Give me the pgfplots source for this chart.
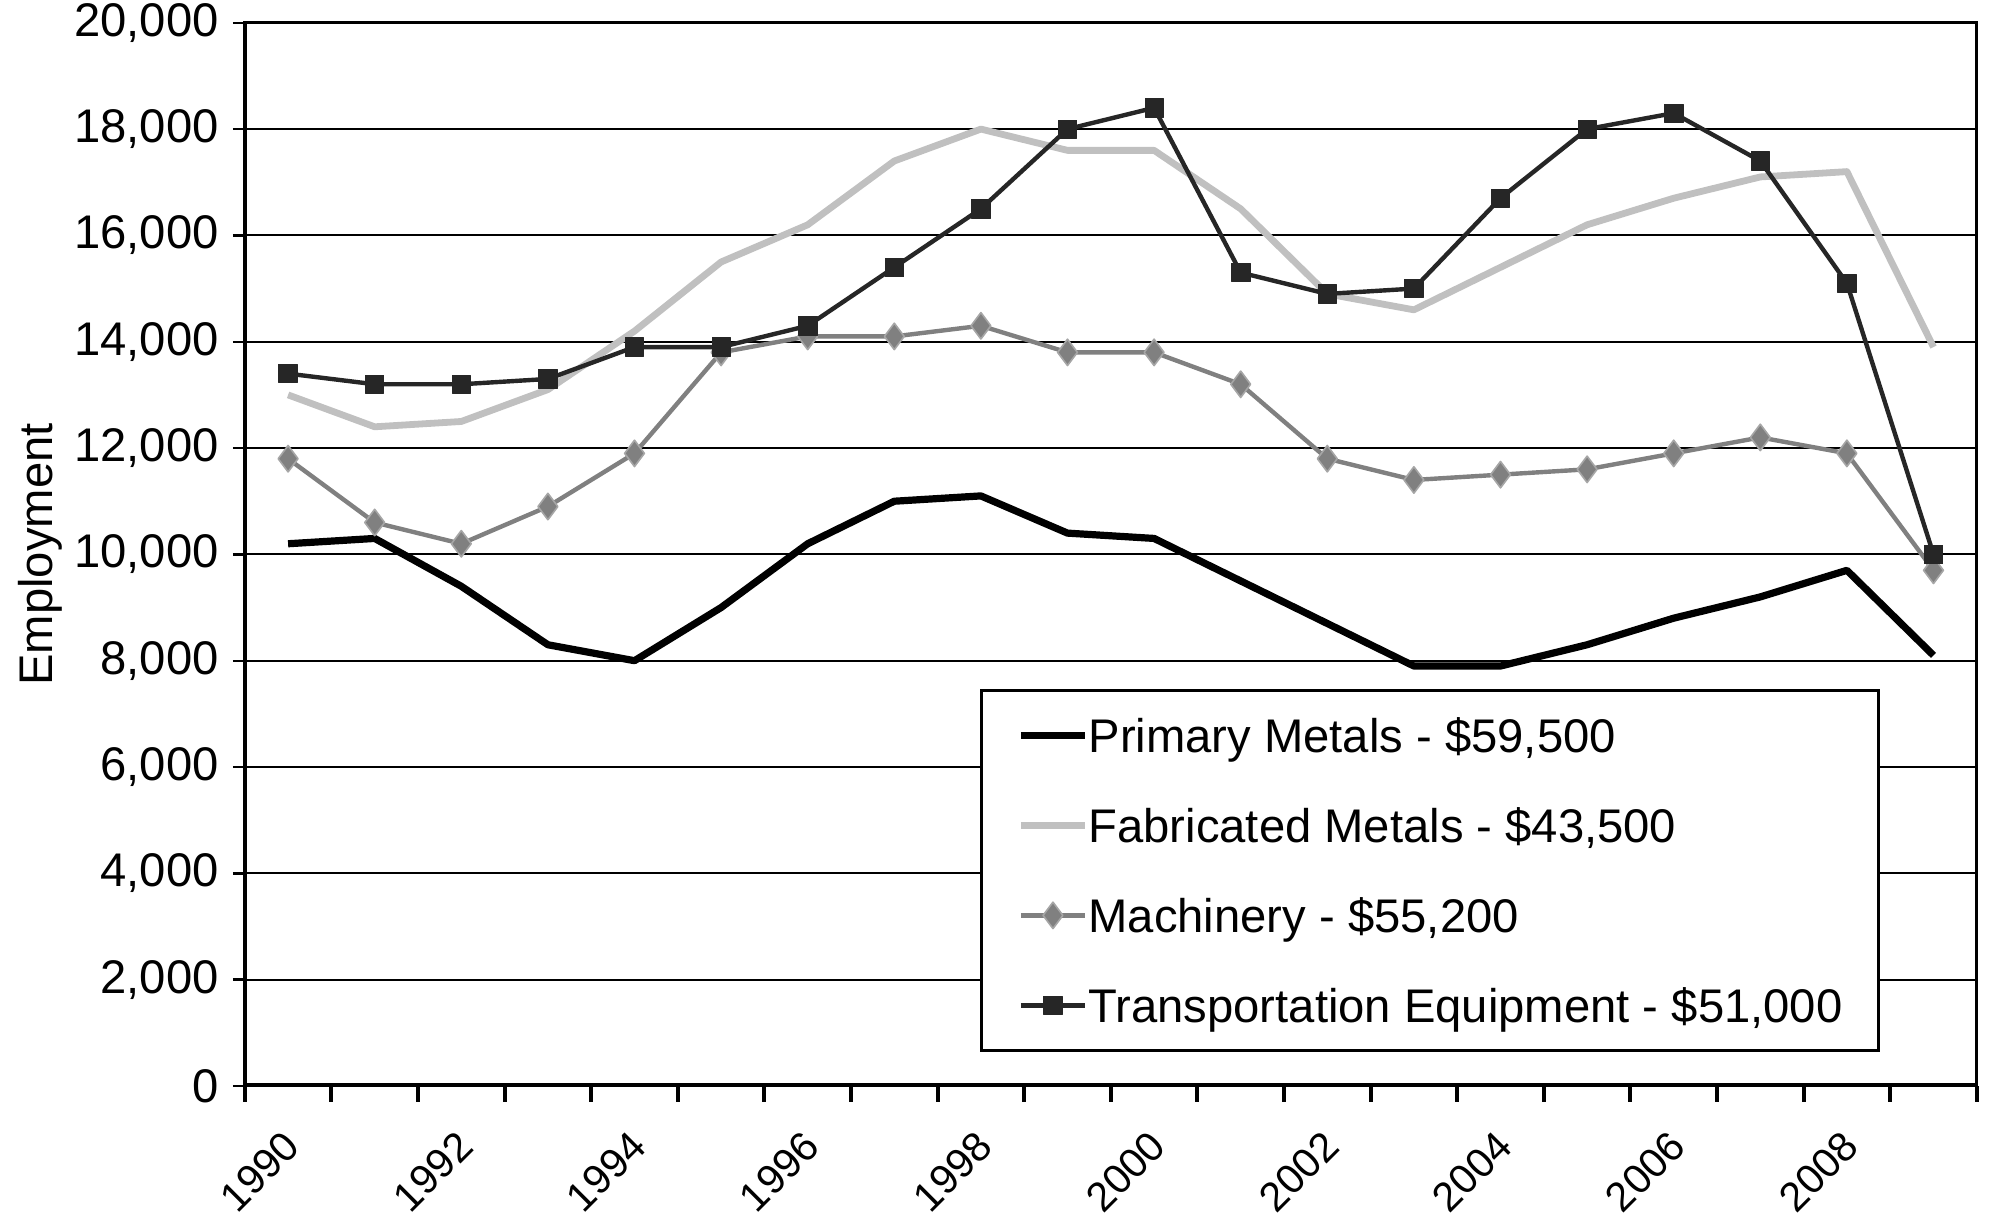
\documentclass[border=0pt]{standalone}
\usepackage{fontspec}
\setmainfont{Liberation Sans}
\usepackage{pgfplots}
\pgfplotsset{compat=1.18}
\definecolor{fab}{HTML}{C0C0C0}
\definecolor{mach}{HTML}{808080}
\definecolor{machedge}{HTML}{A6A6A6}
\definecolor{trans}{HTML}{262626}
\begin{document}
\begin{tikzpicture}[font=\fontsize{11.8}{14}\selectfont]
\begin{axis}[
  at={(0,0)}, anchor=south west,
  scale only axis, width=433pt, height=265.8pt,
  xmin=-0.5, xmax=19.5, ymin=0, ymax=20000,
  xtick={0,2,...,18},
  xticklabels={1990,1992,1994,1996,1998,2000,2002,2004,2006,2008},
  major x tick style={draw=none},
  minor xtick={-0.5,0.5,...,19.5},
  minor tick length=4pt,
  minor x tick style={draw=black, line width=1pt},
  ytick={0,2000,...,20000},
  major tick length=3pt,
  tick align=outside,
  tick pos=left,
  major y tick style={draw=black, line width=0.6pt},
  ymajorgrids,
  grid style={black, line width=0.5pt},
  axis line style={black, line width=0.75pt},
  yticklabel style={/pgf/number format/.cd, fixed, 1000 sep={,}, assume math mode=true},
  scaled y ticks=false,
  xticklabel style={font=\fontsize{10.3}{12}\selectfont, xshift=1.5pt, yshift=-9.8pt, rotate=45, anchor=east, inner sep=0.5pt},
  ylabel={Employment},
  ylabel style={at={(axis description cs:-0.118,0.5)}, anchor=center, rotate=0},
  legend style={at={(rel axis cs:0.4244,0.3735)}, anchor=north west,
    draw=black, line width=0.75pt, inner xsep=9pt, inner ysep=5.5pt,
    row sep=11pt, font=\fontsize{11.8}{14}\selectfont,
    nodes={inner sep=0pt, text height=10pt, text depth=1.5pt, anchor=west}},
  legend cell align=left,
  legend image code/.code={\draw[mark repeat=2, mark phase=2] plot coordinates {(0pt,0pt) (8pt,0pt) (16pt,0pt)};},
]
\addplot[black, line width=1.8pt, line join=round] coordinates {
(0,10200) (1,10300) (2,9400) (3,8300) (4,8000) (5,9000) (6,10200) (7,11000) (8,11100) (9,10400)
(10,10300) (11,9500) (12,8700) (13,7900) (14,7900) (15,8300) (16,8800) (17,9200) (18,9700) (19,8100)};
\addlegendentry{Primary Metals - \$59,500}
\addplot[fab, line width=1.7pt, line join=round] coordinates {
(0,13000) (1,12400) (2,12500) (3,13100) (4,14200) (5,15500) (6,16200) (7,17400) (8,18000) (9,17600)
(10,17600) (11,16500) (12,14900) (13,14600) (14,15400) (15,16200) (16,16700) (17,17100) (18,17200) (19,13900)};
\addlegendentry{Fabricated Metals - \$43,500}
\addplot[mach, line width=1.1pt, line join=round, mark=diamond*, mark size=3.3pt,
  mark options={fill=mach, draw=machedge, line width=0.4pt}] coordinates {
(0,11800) (1,10600) (2,10200) (3,10900) (4,11900) (5,13800) (6,14100) (7,14100) (8,14300) (9,13800)
(10,13800) (11,13200) (12,11800) (13,11400) (14,11500) (15,11600) (16,11900) (17,12200) (18,11900) (19,9700)};
\addlegendentry{Machinery - \$55,200}
\addplot[trans, line width=1.1pt, line join=round, mark=square*, mark size=2.3pt,
  mark options={fill=trans, draw=trans, line width=0.2pt}] coordinates {
(0,13400) (1,13200) (2,13200) (3,13300) (4,13900) (5,13900) (6,14300) (7,15400) (8,16500) (9,18000)
(10,18400) (11,15300) (12,14900) (13,15000) (14,16700) (15,18000) (16,18300) (17,17400) (18,15100) (19,10000)};
\addlegendentry{Transportation Equipment - \$51,000}
\draw[black, line width=1.1pt] (rel axis cs:0,0) -- (rel axis cs:0,1);
\draw[black, line width=1.4pt] (rel axis cs:0,0) -- (rel axis cs:1,0);
\end{axis}
\pgfresetboundingbox
\path[use as bounding box] (-61.2pt,-32.75pt) rectangle (436.3pt,271.5pt);
\end{tikzpicture}
\end{document}
